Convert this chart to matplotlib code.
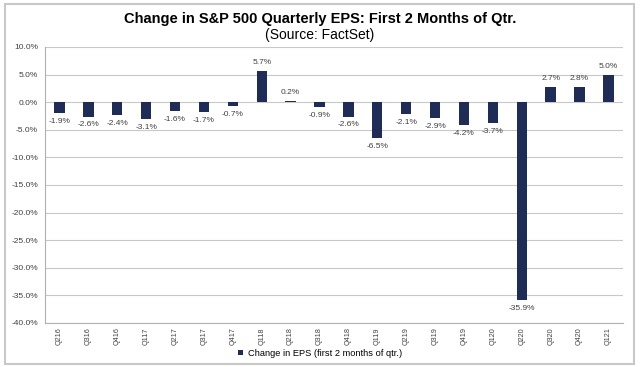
import matplotlib
matplotlib.use('Agg')
import matplotlib.pyplot as plt
from matplotlib.patches import Rectangle
import numpy as np

# --- Data ---
quarters = ['Q216', 'Q316', 'Q416', 'Q117', 'Q217', 'Q317', 'Q417', 'Q118', 'Q218', 'Q318',
            'Q418', 'Q119', 'Q219', 'Q319', 'Q419', 'Q120', 'Q220', 'Q320', 'Q420', 'Q121']
eps_change = [-1.9, -2.6, -2.4, -3.1, -1.6, -1.7, -0.7, 5.7, 0.2, -0.9,
              -2.6, -6.5, -2.1, -2.9, -4.2, -3.7, -35.9, 2.7, 2.8, 5.0]
y_ticks = [10, 5, 0, -5, -10, -15, -20, -25, -30, -35, -40]

BAR_COLOR = '#1f2c56'
plt.rcParams['font.family'] = ['Liberation Sans', 'DejaVu Sans']

fig = plt.figure(figsize=(6.4, 3.67), dpi=100)
ax = fig.add_axes([0.0703, 0.12, 0.903, 0.752])

x = np.arange(len(quarters))
ax.bar(x, eps_change, width=0.36, color=BAR_COLOR, zorder=3,
       label='Change in EPS (first 2 months of qtr.)')

for xi, v in zip(x, eps_change):
    if v >= 0:
        ax.text(xi, v + 0.9, f'{v:.1f}%', ha='center', va='bottom', fontsize=6, color='#404040')
    else:
        ax.text(xi, v - 0.9, f'{v:.1f}%', ha='center', va='top', fontsize=6, color='#404040')

ax.set_ylim(-40, 10)
ax.set_xlim(-0.5, len(quarters) - 0.5)
ax.set_yticks(y_ticks)
ax.set_yticklabels([f'{t:.1f}%' for t in y_ticks], fontsize=6, color='#404040')
ax.set_xticks(x)
ax.set_xticklabels(quarters, rotation=90, fontsize=5.2, color='#404040')
ax.tick_params(axis='y', length=0, pad=5)
ax.tick_params(axis='x', length=0, pad=3)
ax.grid(axis='y', color='#c8c8c8', linewidth=0.8, zorder=0)
for side in ['top', 'right']:
    ax.spines[side].set_visible(False)
ax.spines['left'].set_color('#b0b0b0')
ax.spines['bottom'].set_color('#b0b0b0')

fig.text(0.5, 0.948, 'Change in S&P 500 Quarterly EPS: First 2 Months of Qtr.',
         ha='center', va='center', fontsize=10.5, fontweight='bold')
fig.text(0.5, 0.905, '(Source: FactSet)', ha='center', va='center', fontsize=10)

fig.legend(loc='center', bbox_to_anchor=(0.5, 0.038), frameon=False, fontsize=6.7,
           handlelength=0.5, handleheight=0.5, handletextpad=0.5)

fig.patches.append(Rectangle((0.008, 0.008), 0.982, 0.98, transform=fig.transFigure,
                             fill=False, edgecolor='#c8c8c8', linewidth=1.5))

plt.savefig('out.png', dpi=100)
